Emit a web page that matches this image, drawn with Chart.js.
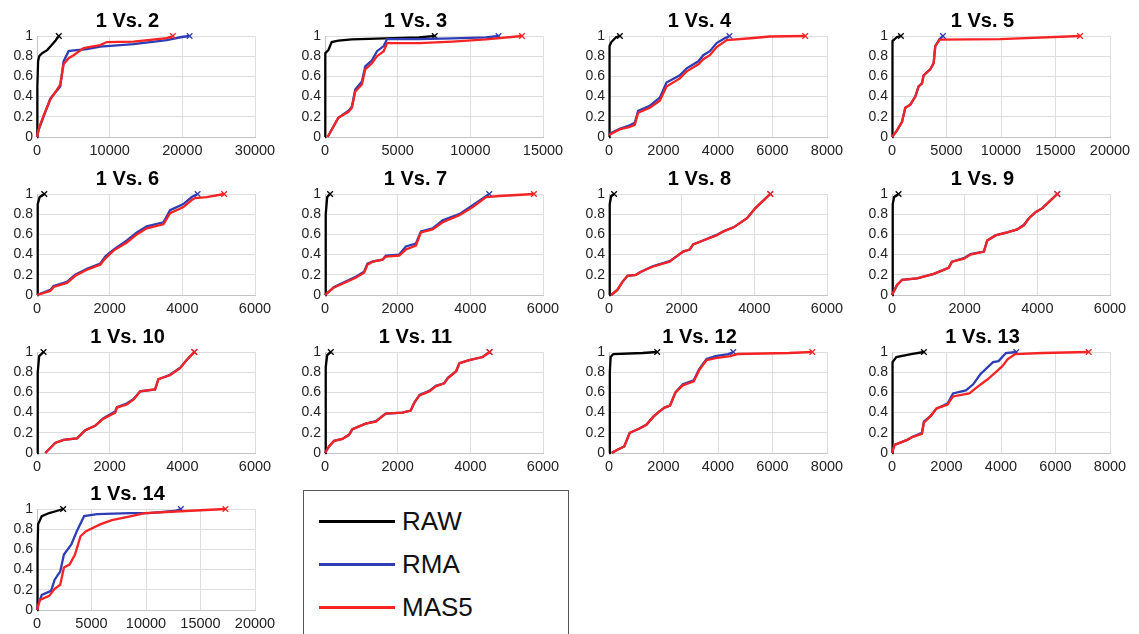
<!DOCTYPE html>
<html>
<head>
<meta charset="utf-8">
<script src="https://cdn.jsdelivr.net/npm/chart.js@4"></script>
<style>
  body { margin: 0; background: #fff; width: 1139px; height: 634px; overflow: hidden; position: relative; }
  canvas { position: absolute; }
  #legend { position: absolute; left: 303px; top: 490px; width: 266px; height: 170px;
    border: 1.5px solid #555; box-sizing: border-box; font-family: "Liberation Sans", Arial, sans-serif; }
  .item { position: absolute; left: 15px; height: 30px; }
  .item span.line { position: absolute; left: 0; top: 14px; width: 76px; height: 2.5px; }
  .item span.txt { position: absolute; left: 83px; top: 0; font-size: 26px; color: #111; line-height: 30px; }
</style>
</head>
<body>
<div id="legend">
  <div class="item" style="top:15px"><span class="line" style="background:#000"></span><span class="txt">RAW</span></div>
  <div class="item" style="top:58px"><span class="line" style="background:#2e3db5"></span><span class="txt">RMA</span></div>
  <div class="item" style="top:101px"><span class="line" style="background:#f52323"></span><span class="txt">MAS5</span></div>
</div>
<script>
const titles = ["1 Vs. 2", "1 Vs. 3", "1 Vs. 4", "1 Vs. 5", "1 Vs. 6", "1 Vs. 7", "1 Vs. 8",
  "1 Vs. 9", "1 Vs. 10", "1 Vs. 11", "1 Vs. 12", "1 Vs. 13", "1 Vs. 14"];
const xMax = [30000, 15000, 8000, 20000, 6000, 6000, 6000, 6000, 6000, 6000, 8000, 8000, 20000];
const xStep = [10000, 5000, 2000, 5000, 2000, 2000, 2000, 2000, 2000, 2000, 2000, 2000, 5000];
const yTicks = [0, 0.2, 0.4, 0.6, 0.8, 1];

// [value, cumulative fraction]
const rawVs2 = [[0,0],[50,0.5],[150,0.75],[300,0.8],[700,0.83],[1400,0.86],[1900,0.9],[2500,0.95],[3000,1]];
const rmaVs2 = [[0,0],[230,0.07],[900,0.2],[1830,0.38],[2750,0.46],[3200,0.5],[3660,0.75],[4350,0.85],[4800,0.855],[6870,0.87],[8700,0.895],[13280,0.92],[17860,0.96],[19900,0.99],[21000,1]];
const masVs2 = [[0,0],[230,0.08],[900,0.21],[1830,0.37],[2750,0.47],[3200,0.52],[3660,0.72],[4350,0.78],[5040,0.81],[6410,0.88],[8700,0.91],[9620,0.94],[13280,0.945],[17860,0.98],[18700,1]];

const rawVs3 = [[0,0],[20,0.83],[230,0.86],[460,0.94],[920,0.955],[1850,0.967],[4150,0.977],[6460,0.987],[7550,1]];
const rmaVs3 = [[180,0],[920,0.19],[1620,0.26],[1850,0.3],[2080,0.47],[2540,0.55],[2770,0.7],[3230,0.76],[3580,0.85],[4040,0.9],[4270,0.97],[6460,0.97],[8770,0.977],[11080,0.987],[11940,1]];
const masVs3 = [[180,0],[920,0.19],[1620,0.25],[1850,0.29],[2080,0.45],[2540,0.52],[2770,0.67],[3230,0.73],[3580,0.8],[4040,0.85],[4270,0.93],[6460,0.93],[8770,0.945],[11080,0.967],[13550,1]];

const rawVs4 = [[0,0],[20,0.9],[86,0.94],[270,0.99],[400,1]];
const rmaVs4 = [[0,0.03],[390,0.08],[760,0.115],[945,0.14],[1070,0.26],[1500,0.31],[1865,0.39],[2110,0.54],[2600,0.61],[2850,0.68],[3280,0.75],[3460,0.81],[3700,0.85],[3950,0.93],[4260,0.98],[4420,1]];
const masVs4 = [[0,0.02],[390,0.075],[760,0.1],[945,0.12],[1070,0.24],[1500,0.29],[1865,0.36],[2110,0.5],[2600,0.58],[2850,0.65],[3280,0.72],[3460,0.77],[3700,0.81],[3950,0.89],[4320,0.96],[5300,0.98],[5910,0.995],[7200,1]];

const rawVs5 = [[0,0],[30,0.9],[60,0.95],[460,0.99],[820,1]];
const rmaVs5 = [[0,0],[460,0.065],[920,0.15],[1220,0.29],[1680,0.32],[2140,0.4],[2440,0.5],[2750,0.53],[2900,0.61],[3510,0.67],[3820,0.73],[3970,0.9],[4370,0.97],[4670,1]];
const masVs5 = [[0,0],[460,0.065],[920,0.15],[1220,0.29],[1680,0.32],[2140,0.4],[2440,0.5],[2750,0.53],[2900,0.61],[3510,0.67],[3820,0.73],[3970,0.9],[4370,0.965],[9920,0.97],[17250,1]];

const rawVs6 = [[0,0],[20,0.9],[73,0.97],[200,1]];
const rmaVs6 = [[0,0],[366,0.05],[458,0.09],[824,0.13],[1053,0.2],[1374,0.26],[1740,0.31],[1877,0.38],[2106,0.45],[2473,0.54],[2747,0.62],[3022,0.68],[3480,0.72],[3663,0.84],[4030,0.9],[4258,0.97],[4420,1]];
const masVs6 = [[0,0],[366,0.04],[458,0.08],[824,0.12],[1053,0.19],[1374,0.25],[1740,0.3],[1877,0.36],[2106,0.44],[2473,0.52],[2747,0.6],[3022,0.66],[3480,0.7],[3663,0.81],[4030,0.87],[4258,0.94],[4350,0.96],[4670,0.97],[5150,1]];

const rawVs7 = [[0,0],[20,0.8],[60,0.97],[140,1]];
const rmaVs7 = [[0,0],[250,0.08],[846,0.18],[1076,0.23],[1168,0.31],[1306,0.33],[1582,0.35],[1674,0.39],[2042,0.4],[2226,0.48],[2502,0.51],[2640,0.63],[2962,0.66],[3238,0.74],[3698,0.8],[4066,0.89],[4520,1]];
const masVs7 = [[0,0],[250,0.075],[846,0.17],[1076,0.22],[1168,0.3],[1306,0.33],[1582,0.35],[1674,0.38],[2042,0.39],[2226,0.45],[2502,0.49],[2640,0.62],[2962,0.65],[3238,0.72],[3698,0.79],[4066,0.87],[4434,0.97],[4800,0.98],[5750,1]];

const rawVs8 = [[0,0],[20,0.9],[60,0.98],[140,1]];
const rmaVs8 = [[60,0],[230,0.05],[370,0.13],[510,0.19],[740,0.2],[880,0.23],[1200,0.285],[1670,0.335],[1850,0.38],[2040,0.43],[2220,0.45],[2315,0.5],[2590,0.54],[2960,0.595],[3150,0.63],[3430,0.67],[3800,0.76],[4030,0.86],[4260,0.94],[4440,1]];
const masVs8 = [[60,0],[230,0.05],[370,0.13],[510,0.19],[740,0.2],[880,0.23],[1200,0.28],[1670,0.33],[1850,0.38],[2040,0.43],[2220,0.45],[2315,0.5],[2590,0.54],[2960,0.59],[3150,0.63],[3430,0.67],[3800,0.76],[4030,0.86],[4260,0.94],[4440,1]];

const rawVs9 = [[0,0],[20,0.9],[60,0.97],[180,1]];
const rmaVs9 = [[0,0],[140,0.1],[275,0.15],[690,0.165],[1150,0.21],[1560,0.27],[1650,0.33],[1980,0.365],[2160,0.405],[2530,0.43],[2620,0.54],[2850,0.59],[3170,0.62],[3450,0.65],[3630,0.695],[3770,0.76],[3950,0.82],[4140,0.86],[4370,0.94],[4550,1]];
const masVs9 = [[0,0],[140,0.1],[275,0.15],[690,0.165],[1150,0.21],[1560,0.27],[1650,0.33],[1980,0.36],[2160,0.4],[2530,0.43],[2620,0.54],[2850,0.59],[3170,0.62],[3450,0.65],[3630,0.69],[3770,0.76],[3950,0.82],[4140,0.86],[4370,0.94],[4550,1]];

const rawVs10 = [[0,0],[20,0.8],[60,0.96],[180,1]];
const rmaVs10 = [[230,0],[366,0.05],[500,0.1],[730,0.13],[1100,0.145],[1330,0.225],[1600,0.27],[1830,0.345],[2150,0.41],[2200,0.455],[2470,0.49],[2660,0.535],[2840,0.61],[3250,0.63],[3340,0.73],[3660,0.775],[3940,0.845],[4120,0.92],[4330,1]];
const masVs10 = [[230,0],[366,0.05],[500,0.1],[730,0.13],[1100,0.145],[1330,0.225],[1600,0.27],[1830,0.34],[2150,0.4],[2200,0.45],[2470,0.48],[2660,0.53],[2840,0.61],[3250,0.63],[3340,0.73],[3660,0.77],[3940,0.84],[4120,0.92],[4330,1]];

const rawVs11 = [[0,0],[20,0.85],[60,0.97],[160,1]];
const rmaVs11 = [[0,0],[110,0.065],[250,0.12],[480,0.14],[660,0.18],[755,0.235],[1120,0.29],[1400,0.315],[1670,0.39],[2130,0.4],[2360,0.42],[2460,0.5],[2600,0.575],[2870,0.615],[3050,0.665],[3280,0.69],[3380,0.745],[3610,0.81],[3700,0.89],[3970,0.92],[4340,0.95],[4530,1]];
const masVs11 = [[0,0],[110,0.065],[250,0.12],[480,0.14],[660,0.18],[755,0.235],[1120,0.29],[1400,0.31],[1670,0.39],[2130,0.4],[2360,0.42],[2460,0.5],[2600,0.57],[2870,0.61],[3050,0.66],[3280,0.69],[3380,0.74],[3610,0.81],[3700,0.89],[3970,0.92],[4340,0.95],[4530,1]];

const rawVs12 = [[0,0],[30,0.8],[60,0.95],[160,0.98],[1230,0.99],[1770,1]];
const rmaVs12 = [[100,0],[290,0.03],[560,0.065],[760,0.2],[1100,0.24],[1370,0.28],[1630,0.36],[1840,0.41],[2040,0.45],[2240,0.47],[2440,0.6],[2710,0.68],[3110,0.72],[3310,0.83],[3580,0.93],[3910,0.96],[4380,0.98],[4560,1]];
const masVs12 = [[100,0],[290,0.03],[560,0.065],[760,0.2],[1100,0.24],[1370,0.28],[1630,0.36],[1840,0.41],[2040,0.45],[2240,0.47],[2440,0.6],[2710,0.67],[3110,0.71],[3310,0.82],[3580,0.92],[3910,0.94],[4450,0.96],[4720,0.98],[6600,0.99],[7460,1]];

const rawVs13 = [[0,0],[20,0.9],[160,0.95],[700,0.98],[1170,1]];
const rmaVs13 = [[0,0],[90,0.08],[560,0.13],[760,0.16],[1100,0.2],[1170,0.31],[1430,0.37],[1630,0.44],[2040,0.49],[2240,0.59],[2710,0.62],[2980,0.68],[3240,0.78],[3710,0.9],[3910,0.91],[4180,0.99],[4560,1]];
const masVs13 = [[0,0],[90,0.08],[560,0.13],[760,0.16],[1100,0.19],[1170,0.3],[1430,0.37],[1630,0.44],[2040,0.48],[2240,0.56],[2840,0.59],[3110,0.65],[3510,0.73],[3850,0.81],[4050,0.86],[4250,0.93],[4520,0.98],[5520,0.99],[7220,1]];

const rawVs14 = [[0,0],[50,0.6],[100,0.85],[440,0.93],[1120,0.96],[1790,0.98],[2400,1]];
const rmaVs14 = [[0,0],[100,0.05],[440,0.15],[1290,0.19],[1620,0.3],[2130,0.38],[2470,0.55],[3150,0.65],[3650,0.78],[4330,0.93],[5520,0.95],[8560,0.96],[10250,0.96],[12620,0.98],[13200,1]];
const masVs14 = [[0,0],[270,0.1],[1120,0.14],[1620,0.21],[2130,0.25],[2470,0.42],[2980,0.45],[3490,0.55],[3990,0.73],[4500,0.78],[5850,0.85],[6870,0.89],[8220,0.92],[9920,0.96],[13640,0.98],[17290,1]];

const rawSeries = [rawVs2, rawVs3, rawVs4, rawVs5, rawVs6, rawVs7, rawVs8, rawVs9, rawVs10, rawVs11, rawVs12, rawVs13, rawVs14];
const rmaSeries = [rmaVs2, rmaVs3, rmaVs4, rmaVs5, rmaVs6, rmaVs7, rmaVs8, rmaVs9, rmaVs10, rmaVs11, rmaVs12, rmaVs13, rmaVs14];
const masSeries = [masVs2, masVs3, masVs4, masVs5, masVs6, masVs7, masVs8, masVs9, masVs10, masVs11, masVs12, masVs13, masVs14];

// plot-area placement of the 4x4 grid
const colLeft = [37, 325, 609, 892];
const rowTop = [36, 194, 352, 509];
const plotW = 218, plotH = 101;
const AXW = 37, TITLEH = 36, XAXH = 24;

const font = "'Liberation Sans', Arial, Helvetica, sans-serif";

// order: lower is drawn on top, so MAS5 sits over RMA like the original
function series(label, pts, color, order) {
  const last = pts.length - 1;
  return {
    label: label,
    order: order,
    data: pts.map(p => ({ x: p[0], y: p[1] })),
    borderColor: color,
    backgroundColor: color,
    borderWidth: 2.3,
    tension: 0,
    clip: false,
    pointStyle: "crossRot",
    pointRadius: ctx => ctx.dataIndex === last ? 4 : 0,
    pointBorderWidth: 1.3,
    pointHoverRadius: 0
  };
}

titles.forEach((title, i) => {
  const c = document.createElement("canvas");
  const left = colLeft[i % 4] - AXW;
  const top = rowTop[Math.floor(i / 4)] - TITLEH;
  const w = AXW + plotW + AXW, h = TITLEH + plotH + XAXH;
  c.width = w; c.height = h;
  c.style.left = left + "px"; c.style.top = top + "px";
  c.style.width = w + "px"; c.style.height = h + "px";
  document.body.appendChild(c);

  new Chart(c, {
    type: "line",
    data: {
      datasets: [
        series("RAW", rawSeries[i], "#000000", 2),
        series("RMA", rmaSeries[i], "#2e3db5", 1),
        series("MAS5", masSeries[i], "#f52323", 0)
      ]
    },
    options: {
      responsive: false,
      animation: false,
      devicePixelRatio: 1,
      layout: { padding: { left: 0, right: AXW, top: 0, bottom: 0 } },
      plugins: {
        legend: { display: false },
        tooltip: { enabled: false },
        title: {
          display: true,
          text: title,
          color: "#000",
          font: { family: font, size: 20, weight: "bold", lineHeight: 1.2 },
          padding: { top: 9, bottom: 3 }
        }
      },
      scales: {
        x: {
          type: "linear",
          min: 0,
          max: xMax[i],
          afterFit: s => { s.height = XAXH; },
          border: { color: "#c4c4c4", width: 1 },
          grid: { color: "#dedede", drawTicks: false },
          ticks: {
            stepSize: xStep[i],
            autoSkip: false,
            maxRotation: 0,
            padding: 5,
            color: "#222",
            font: { family: font, size: 14.5 },
            callback: v => String(v)
          }
        },
        y: {
          min: 0,
          max: 1,
          afterFit: s => { s.width = AXW; },
          afterBuildTicks: s => { s.ticks = yTicks.map(v => ({ value: v })); },
          border: { color: "#c4c4c4", width: 1 },
          grid: { color: "#dedede", drawTicks: false },
          ticks: {
            autoSkip: false,
            padding: 4,
            color: "#222",
            font: { family: font, size: 14 },
            callback: v => String(Math.round(v * 10) / 10)
          }
        }
      }
    }
  });
});
</script>
</body>
</html>
